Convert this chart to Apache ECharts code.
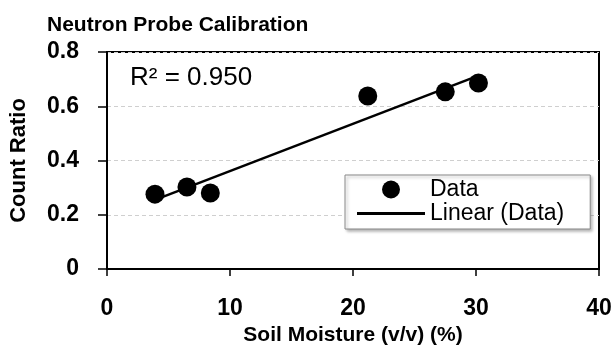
<!DOCTYPE html>
<html>
<head>
<meta charset="utf-8">
<script src="https://cdn.jsdelivr.net/npm/echarts@6/dist/echarts.min.js"></script>
<style>
  html, body { margin: 0; padding: 0; background: #fff; }
  #main { width: 612px; height: 345px; }
</style>
</head>
<body>
<div id="main"></div>
<script>
// 数据
let moisture = [3.9, 6.5, 8.4, 21.2, 27.5, 30.2]
let countRatio = [0.276, 0.302, 0.28, 0.638, 0.653, 0.686]
// 趋势线两端
let fitX = [3.9, 30.2]
let fitY = [0.255, 0.713]
let xTicks = [0, 10, 20, 30, 40]
let yTicks = [0, 0.2, 0.4, 0.6, 0.8]

let ele = echarts.init(document.getElementById('main'))

let font = '"Liberation Sans", Arial, sans-serif'
let points = moisture.map((x, i) => [x, countRatio[i]])
let line = fitX.map((x, i) => [x, fitY[i]])

const option = {
    animation: false,
    textStyle: { fontFamily: font },
    title: [
        {
            text: 'Neutron Probe Calibration',
            left: 42,
            top: 10,
            textStyle: { fontSize: 21, fontWeight: 'bold', color: '#000', fontFamily: font }
        },
        {
            text: 'R² = 0.950',
            left: 125,
            top: 60,
            textStyle: { fontSize: 26, fontWeight: 'normal', color: '#000', fontFamily: font }
        }
    ],
    grid: {
        left: 107,
        right: 13,
        top: 52,
        bottom: 76,
        outerBoundsMode: 'none',
        containLabel: false,
        show: true,
        borderColor: '#000',
        borderWidth: 2
    },
    legend: {
        orient: 'vertical',
        left: 345,
        top: 175,
        padding: [3, 26, 4, 12],
        itemWidth: 68,
        itemHeight: 18,
        itemGap: 1,
        borderColor: '#888',
        borderWidth: 1,
        backgroundColor: '#fff',
        shadowColor: 'rgba(0,0,0,0.3)',
        shadowBlur: 3,
        shadowOffsetX: 2,
        shadowOffsetY: 2,
        textStyle: { fontSize: 23, color: '#000', fontFamily: font },
        data: [
            { name: 'Data', icon: 'circle' },
            { name: 'Linear (Data)', icon: 'path://M0,0H68V3H0Z' }
        ]
    },
    xAxis: {
        type: 'value',
        min: xTicks[0],
        max: xTicks[xTicks.length - 1],
        interval: 10,
        name: 'Soil Moisture (v/v) (%)',
        nameLocation: 'middle',
        nameGap: 44,
        nameTextStyle: { fontSize: 21, fontWeight: 'bold', color: '#000' },
        axisLine: { show: true, lineStyle: { color: '#000', width: 2 } },
        axisTick: { show: true, length: 7, lineStyle: { color: '#000', width: 1.5 } },
        axisLabel: { margin: 28, fontSize: 23, fontWeight: 'bold', color: '#000' },
        splitLine: { show: false }
    },
    yAxis: {
        type: 'value',
        min: yTicks[0],
        max: yTicks[yTicks.length - 1],
        interval: 0.2,
        name: 'Count Ratio',
        nameLocation: 'middle',
        nameGap: 77,
        nameTextStyle: { fontSize: 22, fontWeight: 'bold', color: '#000' },
        axisLine: { show: true, lineStyle: { color: '#000', width: 2 } },
        axisTick: { show: true, length: 9, lineStyle: { color: '#000', width: 1.5 } },
        axisLabel: { margin: 28, fontSize: 23, fontWeight: 'bold', color: '#000' },
        splitLine: { show: true, lineStyle: { color: '#cfcfcf', type: [4, 3], width: 1 } }
    },
    series: [
        {
            name: 'Data',
            type: 'scatter',
            symbol: 'circle',
            symbolSize: 19,
            itemStyle: { color: '#000', opacity: 1 },
            data: points,
            z: 3
        },
        {
            name: 'Linear (Data)',
            type: 'line',
            symbol: 'none',
            lineStyle: { color: '#000', width: 2.5 },
            itemStyle: { color: '#000' },
            data: line,
            z: 2
        }
    ]
}
ele.setOption(option)
</script>
</body>
</html>
